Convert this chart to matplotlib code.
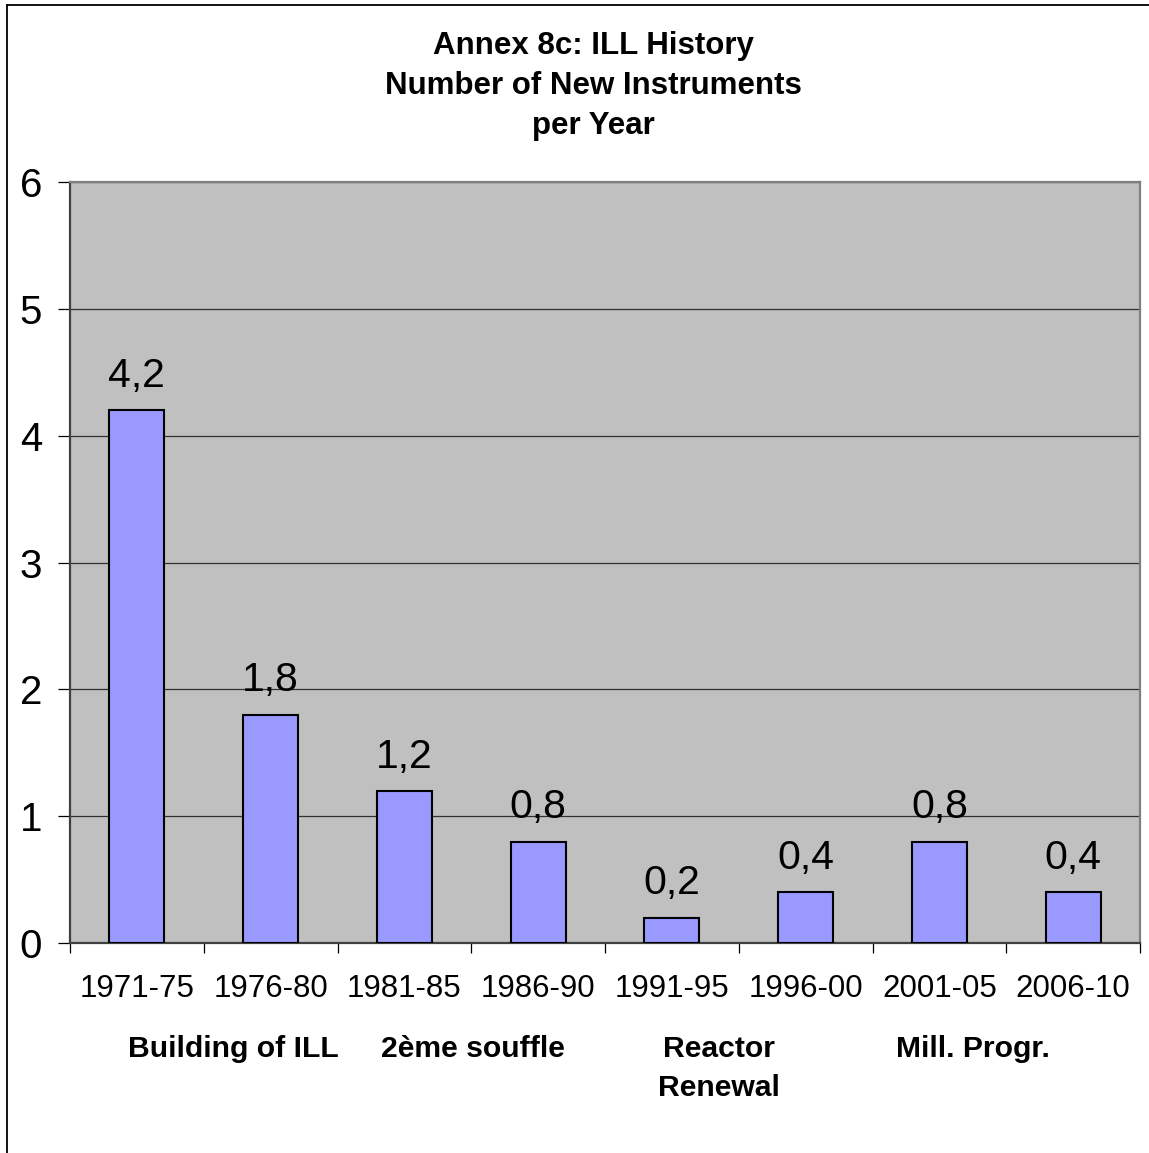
import matplotlib.pyplot as plt
import numpy as np
from matplotlib.lines import Line2D

plt.rcParams['font.family'] = ['Liberation Sans', 'DejaVu Sans']

# periods and instruments per year
periodes = ['1971-75', '1976-80', '1981-85', '1986-90',
            '1991-95', '1996-00', '2001-05', '2006-10']
valeurs = [4.2, 1.8, 1.2, 0.8, 0.2, 0.4, 0.8, 0.4]

# phases written under the periods (text, x in category units)
phases = ['Building of ILL', '2ème souffle', 'Reactor\nRenewal', 'Mill. Progr.']
phases_x = [0.72, 2.51, 4.35, 6.25]

W, H = 1149, 1153
fig = plt.figure(figsize=(W / 100, H / 100), dpi=100)
fig.patch.set_facecolor('white')

# cadre du graphique (gauche et haut)
fig.add_artist(Line2D([7 / W, 7 / W], [0, 1 - 5 / H], color='black', lw=1.3))
fig.add_artist(Line2D([7 / W, 1], [1 - 5 / H, 1 - 5 / H], color='black', lw=1.3))

ax = fig.add_axes([70 / W, 1 - 943 / H, (1140 - 70) / W, (943 - 182) / H])
ax.set_facecolor('#c0c0c0')

x = np.arange(len(periodes))
ax.bar(x, valeurs, width=0.41, color='#9999ff', edgecolor='black', linewidth=1.5, zorder=3)

for xi, v in zip(x, valeurs):
    ax.annotate(f'{v:.1f}'.replace('.', ','), (xi, v), xytext=(0, 11),
                textcoords='offset points', ha='center', va='bottom', fontsize=29.5)

ax.set_xlim(-0.5, len(periodes) - 0.5)
ax.set_ylim(0, 6)
ax.set_yticks(range(7))
ax.yaxis.grid(True, color='#303030', lw=0.9, zorder=1)
ax.set_axisbelow(True)

ax.set_xticks(x)
ax.set_xticklabels(periodes, fontsize=22.5)
ax.set_xticks(np.arange(-0.5, len(periodes)), minor=True)
ax.tick_params(axis='x', which='major', length=0, pad=22)
ax.tick_params(axis='x', which='minor', length=7, width=0.9, direction='out', color='black')
ax.tick_params(axis='y', length=9, width=0.9, direction='out', color='black',
               labelsize=29, pad=11)

for s in ['left', 'bottom']:
    ax.spines[s].set_color('#404040')
    ax.spines[s].set_linewidth(1.6)
for s in ['top', 'right']:
    ax.spines[s].set_color('#808080')
    ax.spines[s].set_linewidth(1.6)

for txt, px in zip(phases, phases_x):
    ax.text(px, -0.725, txt, transform=ax.transData,
            ha='center', va='top', fontsize=21.7, fontweight='bold', linespacing=1.5,
            clip_on=False)

fig.text(593 / W, 1 - 31 / H, 'Annex 8c: ILL History\nNumber of New Instruments\nper Year',
         ha='center', va='top', fontsize=22.5, fontweight='bold', linespacing=1.43)

fig.savefig('out.png', dpi=100)
